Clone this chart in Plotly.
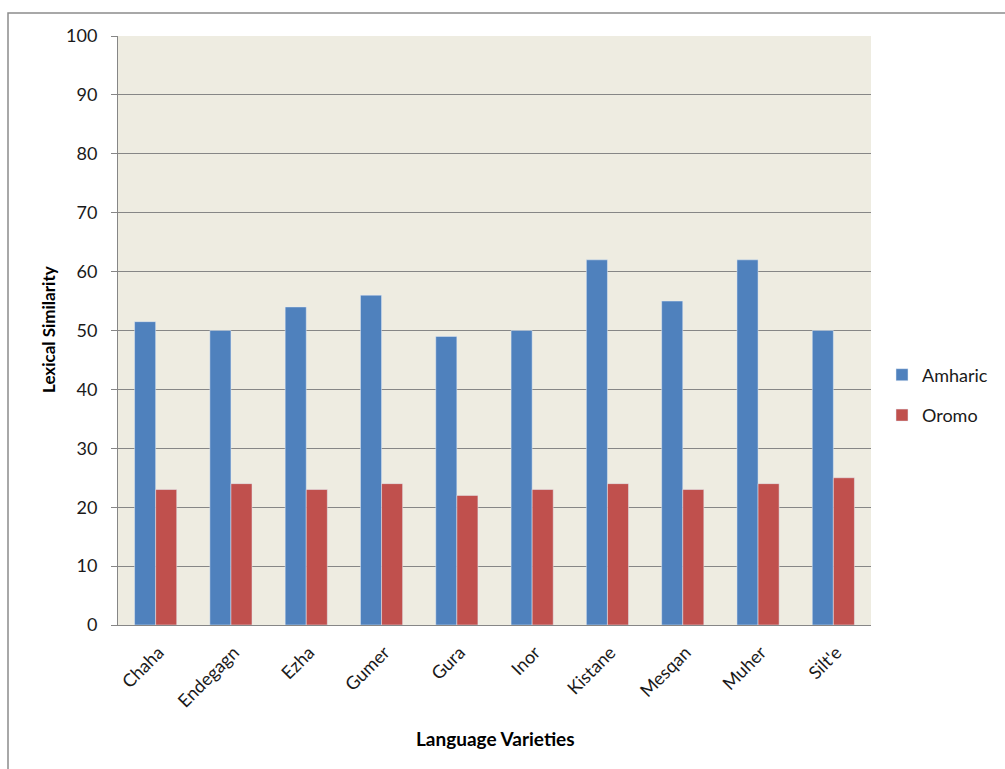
import plotly.graph_objects as go

# Lexical similarity of Gurage language varieties with Amharic and Oromo
varieties = ["Chaha", "Endegagn", "Ezha", "Gumer", "Gura",
             "Inor", "Kistane", "Mesqan", "Muher", "Silt'e"]
amharic = [51.5, 50, 54, 56, 49, 50, 62, 55, 62, 50]
oromo = [23, 24, 23, 24, 22, 23, 24, 23, 24, 25]
y_ticks = [0, 10, 20, 30, 40, 50, 60, 70, 80, 90, 100]

FONT = "Lato, 'Open Sans', sans-serif"
W, H = 1005, 769
L, R, T, B = 118, 134, 36, 144

fig = go.Figure()
fig.add_trace(go.Bar(x=varieties, y=amharic, name="Amharic",
                     marker_color="#4F81BD", legendgroup="a"))
fig.add_trace(go.Bar(x=varieties, y=oromo, name="Oromo",
                     marker_color="#C0504D", legendgroup="o"))

pw = W - L - R
ph = H - T - B

fig.update_layout(
    width=W, height=H,
    margin=dict(l=L, r=R, t=T, b=B, autoexpand=False),
    paper_bgcolor="white",
    plot_bgcolor="#EEECE1",
    barmode="group",
    bargap=0.44,
    bargroupgap=0,
    font=dict(family=FONT, size=18, color="#1A1A1A"),
    showlegend=True,
    legend=dict(x=(882 - L) / pw, y=(625 - 395) / ph, xanchor="left", yanchor="middle",
                font=dict(size=18), tracegroupgap=14, itemwidth=30,
                bgcolor="rgba(0,0,0,0)"),
    xaxis=dict(tickangle=-45, showgrid=False, showline=True, linecolor="#868686",
               linewidth=1, ticks="", tickfont=dict(size=18),
               ticklabelstandoff=9, ticklabelshift=3),
    yaxis=dict(range=[0, 100], tickvals=y_ticks, showgrid=True, gridcolor="#868686",
               gridwidth=1, showline=True, linecolor="#868686", linewidth=1,
               ticks="outside", ticklen=6, tickcolor="#868686",
               tickfont=dict(size=18), zeroline=False, ticklabelstandoff=10),
    shapes=[dict(type="rect", xref="paper", yref="paper",
                 x0=(8 - L) / pw, x1=(1100 - L) / pw,
                 y0=(625 - 900) / ph, y1=1 + (T - 13) / ph,
                 line=dict(color="#8C8C8C", width=1.5), layer="below")],
    annotations=[
        dict(text="<b>Lexical Similarity</b>", xref="paper", yref="paper",
             x=(48 - L) / pw, y=(625 - 330) / ph, textangle=-90, showarrow=False,
             font=dict(size=17, color="#000000"), xanchor="center", yanchor="middle"),
        dict(text="<b>Language Varieties</b>", xref="paper", yref="paper",
             x=(495 - L) / pw, y=(625 - 738) / ph, showarrow=False,
             font=dict(size=19, color="#000000"), xanchor="center", yanchor="middle"),
    ],
)

fig.write_html("out.html")
